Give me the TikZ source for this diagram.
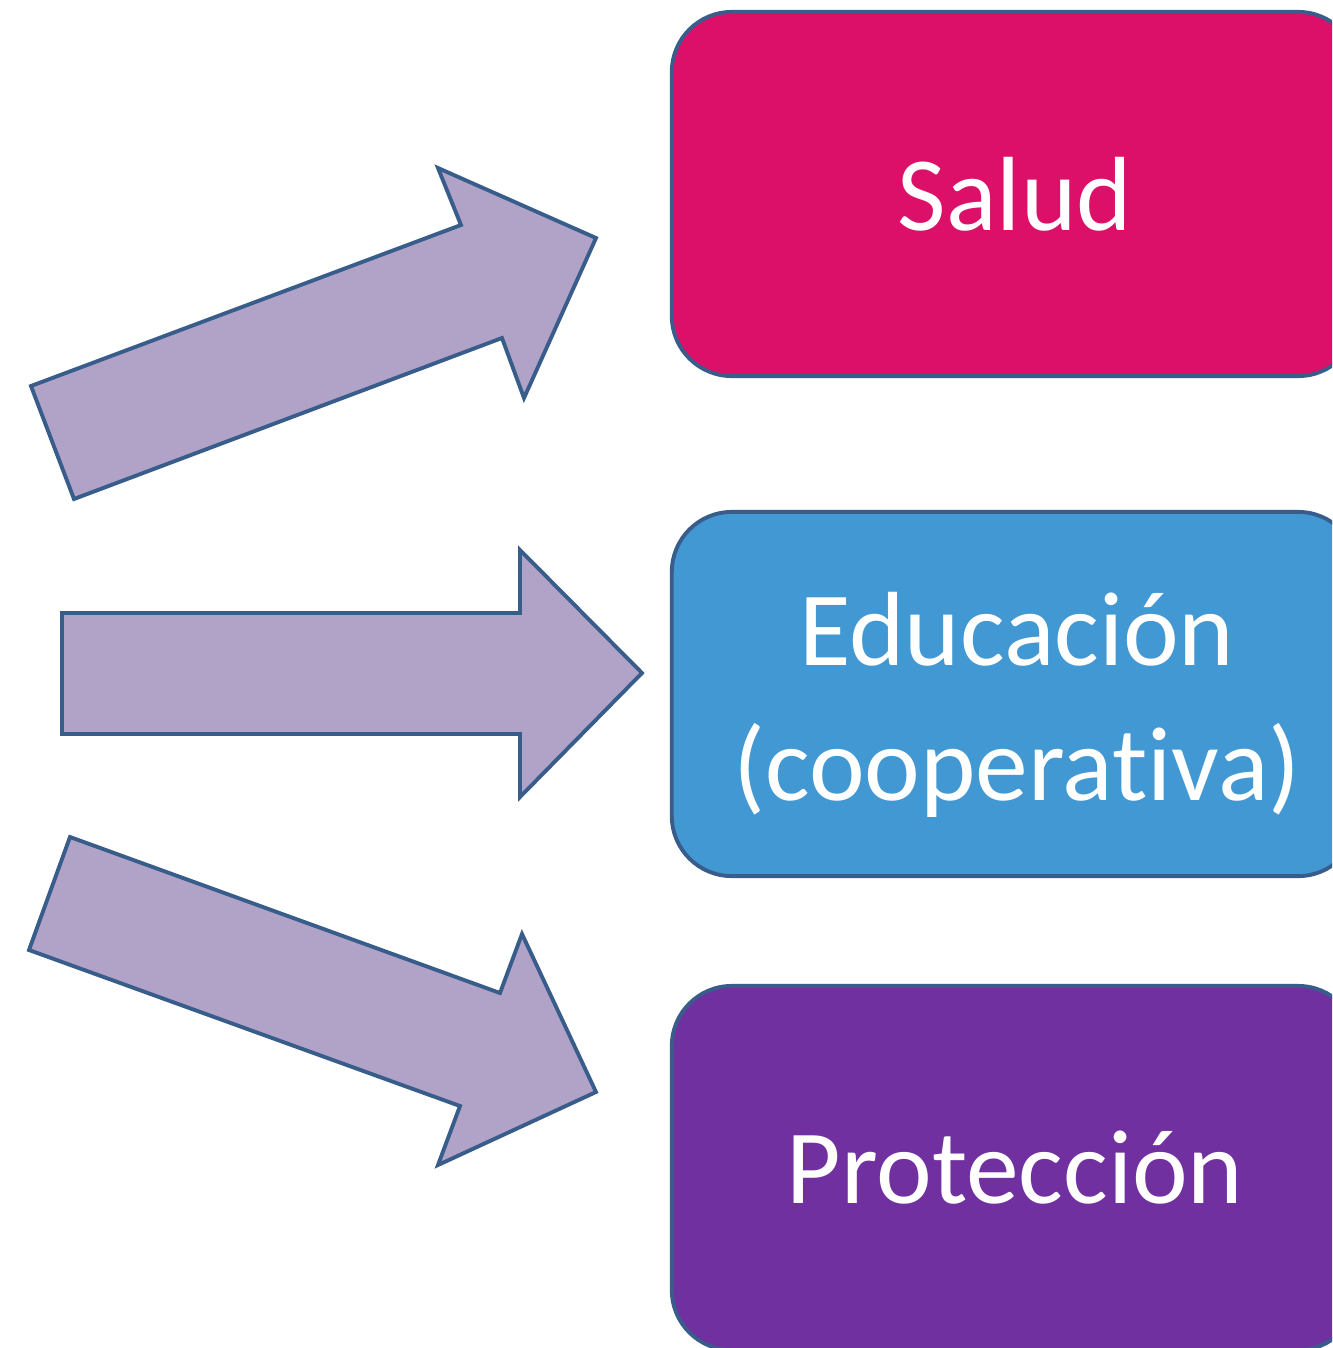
\documentclass[tikz,border=0pt]{standalone}
\usepackage{fontspec}
\setmainfont[Ligatures=CommonOff]{Carlito}
\usepackage{tikz}

\definecolor{saludcol}{HTML}{DC1068}
\definecolor{educol}{HTML}{4198D2}
\definecolor{protcol}{HTML}{7030A0}
\definecolor{arrowfill}{HTML}{B1A3C8}
\definecolor{edgecol}{HTML}{385D8A}

\begin{document}
\begin{tikzpicture}[
    x=0.01cm, y=-0.01cm,
    box/.style={rectangle, draw=edgecol, line width=1.1pt, rounded corners=0.6cm, minimum width=6.86cm, minimum height=3.64cm, align=center, text=white, font=\fontsize{30}{38.5}\selectfont},
    boxtext/.style={align=center, text=white, font=\fontsize{30}{38.5}\selectfont},
    bigarrow/.style={draw=edgecol, fill=arrowfill, line width=1.1pt, line join=miter}
]
\clip (0,0) rectangle (1332,1348);

\node[box, fill=saludcol] (salud) at (1015,194) {Salud};
\node[box, fill=educol] (educacion) at (1015,694) {};
\node[boxtext] (educaciontext) at (1017,705) {Educación\\(cooperativa)};
\node[box, fill=protcol] (proteccion) at (1015,1168) {Protección};

% arrows
\draw[bigarrow] (31,386) -- (461,225) -- (438,168) -- (596,238) -- (524,398) -- (502,338) -- (74,499) -- cycle;
\draw[bigarrow] (62,613) -- (520,613) -- (520,550) -- (642,673) -- (520,797) -- (520,734) -- (62,734) -- cycle;
\draw[bigarrow] (70,837) -- (500,993) -- (522,934) -- (596,1092) -- (438,1165) -- (460,1106) -- (29,950) -- cycle;
\end{tikzpicture}
\end{document}
